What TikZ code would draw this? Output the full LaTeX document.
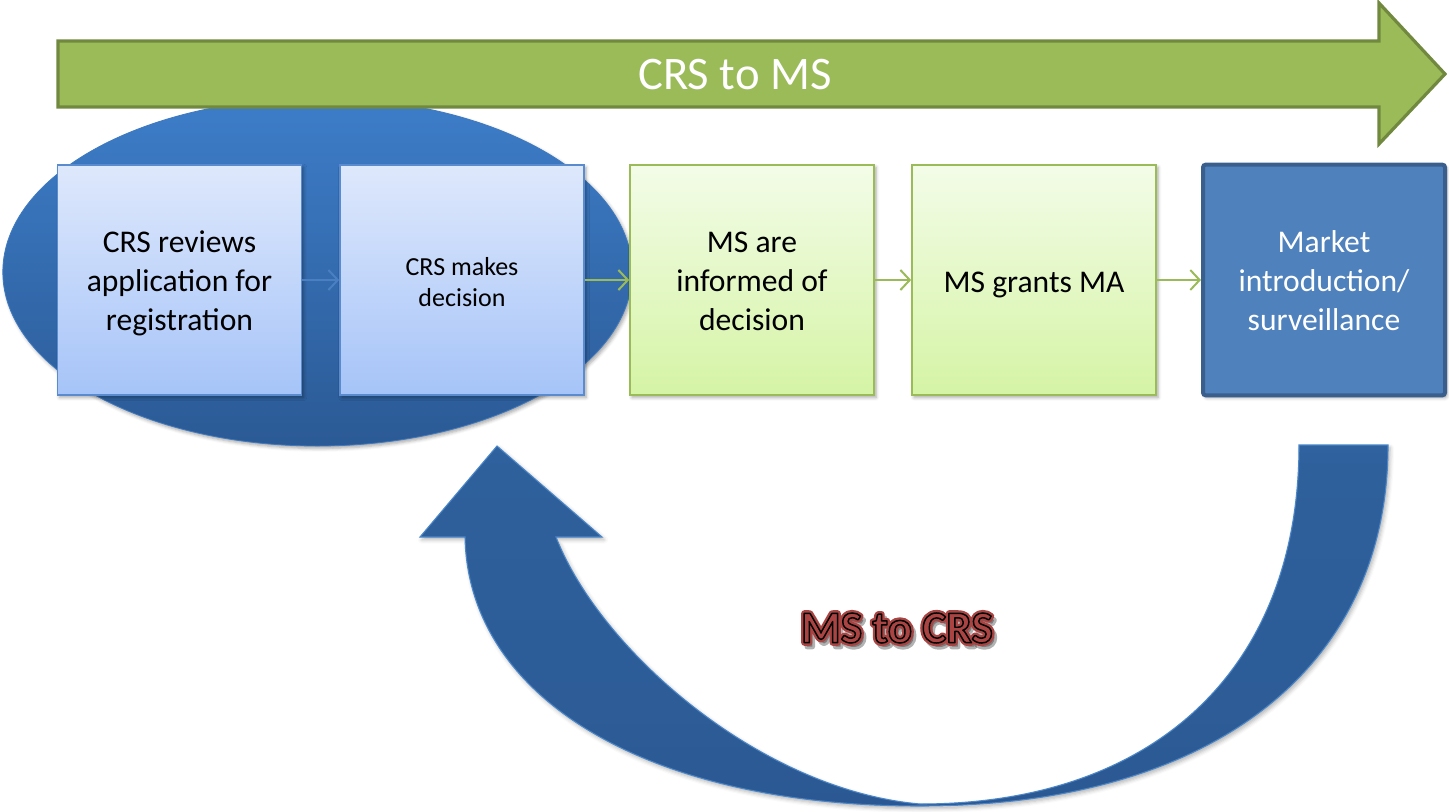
\documentclass[tikz,border=0pt]{standalone}
\usepackage{fontspec}
\setmainfont{Carlito}
\usetikzlibrary{arrows.meta,shadows.blur,shapes.geometric,calc}
\definecolor{ovaltop}{HTML}{3D7DC9}
\definecolor{ovalbot}{HTML}{2B5A95}
\definecolor{ovaledge}{HTML}{3F7AC0}
\definecolor{bbtop}{HTML}{DEE8FC}
\definecolor{bbbot}{HTML}{A6C4F8}
\definecolor{bbedge}{HTML}{5B8BCF}
\definecolor{gbtop}{HTML}{F3FCE8}
\definecolor{gbbot}{HTML}{D5F4A5}
\definecolor{gbedge}{HTML}{9BBB59}
\definecolor{gafill}{HTML}{9BBB59}
\definecolor{gaedge}{HTML}{71893F}
\definecolor{mkfill}{HTML}{4F81BD}
\definecolor{mkedge}{HTML}{3A5F8C}
\definecolor{catop}{HTML}{3A76BD}
\definecolor{camida}{HTML}{2E609C}
\definecolor{camidb}{HTML}{2D5C97}
\definecolor{cabot}{HTML}{27508A}
\definecolor{caedge}{HTML}{4A86C8}
\definecolor{connblue}{HTML}{4A7FC2}
\definecolor{conngreen}{HTML}{9BBB59}
\definecolor{msred}{HTML}{A94442}
\pgfdeclareverticalshading{retshade}{100bp}{color(0bp)=(cabot); color(38bp)=(camidb); color(72bp)=(camida); color(100bp)=(catop)}
\tikzset{
  softshadow/.style={blur shadow={shadow xshift=1.5pt, shadow yshift=-1.8pt, shadow blur radius=2.5pt, shadow opacity=35}},
  boxbase/.style={minimum width=183pt, minimum height=172.5pt, inner sep=0pt, softshadow},
  bluebox/.style={boxbase, draw=bbedge, line width=1.3pt, top color=bbtop, bottom color=bbbot},
  greenbox/.style={boxbase, draw=gbedge, line width=1.3pt, top color=gbtop, bottom color=gbbot},
  markbox/.style={boxbase, minimum width=181.5pt, minimum height=173pt, draw=mkedge, line width=3pt, rounded corners=2pt, fill=mkfill},
  boxtext/.style={align=center, inner sep=0pt, font=\fontsize{23.7}{29.2}\selectfont},
  conn/.style={line width=1.5pt, -{Straight Barb[length=7pt, width=15pt, line width=1.5pt]}},
  msfont/.style={font=\fontsize{34}{40}\selectfont\bfseries, inner sep=0pt}
}
\begin{document}
\begin{tikzpicture}[x=0.75pt, y=-0.75pt]
\useasboundingbox (0,0) rectangle (1449,811);

% oval behind the first two steps
\node[ellipse, minimum width=472pt, minimum height=261pt, inner sep=0pt,
      top color=ovaltop, bottom color=ovalbot, draw=ovaledge, line width=0.6pt, softshadow]
      (oval) at (317.5,272) {};

% top green arrow
\path[fill=gafill, draw=gaedge, line width=2.4pt, line join=miter]
  (58,41) -- (1379,41) -- (1379,3) -- (1445,74) -- (1379,144) -- (1379,107) -- (58,107) -- cycle;
\node[text=white, font=\fontsize{35}{40}\selectfont, inner sep=0pt] (crsms) at (735,75) {CRS to MS};

% steps
\node[bluebox] (b1) at (179.5,280) {};
\node[bluebox] (b2) at (462,280) {};
\node[greenbox] (b3) at (752,280) {};
\node[greenbox] (b4) at (1034,280) {};
\node[markbox] (b5) at (1324,280) {};

\node[boxtext] (t1) at ($(b1.center)+(0,3)$) {CRS reviews\\application for\\registration};
\node[boxtext, font=\fontsize{19.5}{23.5}\selectfont] (t2) at ($(b2.center)+(0,2)$) {CRS makes\\decision};
\node[boxtext] (t3) at ($(b3.center)+(0,1)$) {MS are\\informed of\\decision};
\node[boxtext] (t4) at ($(b4.center)+(0,5)$) {MS grants MA};
\node[boxtext, text=white] (t5) at ($(b5.center)+(0,1)$) {Market\\introduction/\\surveillance};

\draw[conn, connblue] (b1.east) -- (b2.west);
\draw[conn, conngreen] (b2.east) -- (b3.west);
\draw[conn, conngreen] (b3.east) -- (b4.west);
\draw[conn, conngreen] (b4.east) -- (b5.west);

% curved return arrow
\path[shading=retshade, draw=caedge, line width=0.8pt,
      blur shadow={shadow xshift=1.5pt, shadow yshift=-2pt, shadow blur radius=3pt, shadow opacity=30}]
  (1388,445) .. controls (1388,670) and (1210,806) .. (920,806)
  .. controls (650,806) and (468,700) .. (465,537)
  -- (420,537) -- (497,446) -- (602,537) -- (556,537)
  .. controls (600,650) and (760,790) .. (920,804)
  .. controls (1155,804) and (1299,669) .. (1299,445) -- cycle;

% MS to CRS label: shadow, red glow, red fill with black outline
\coordinate (lab) at (897,628);
\node[msfont, text=black, opacity=0.3] (msshadow) at ($(lab)+(3,4)$)
  {\special{pdf:literal direct 2 Tr 4 w 1 j 0 0 0 RG}MS to CRS};
\node[msfont, text=msred] (msglow) at (lab)
  {\special{pdf:literal direct 2 Tr 4.6 w 1 j 0.663 0.267 0.259 RG}MS to CRS};
\node[msfont, text=msred] (mscrs) at (lab)
  {\special{pdf:literal direct 2 Tr 1.1 w 1 j 0 0 0 RG}MS to CRS};
\end{tikzpicture}
\end{document}
